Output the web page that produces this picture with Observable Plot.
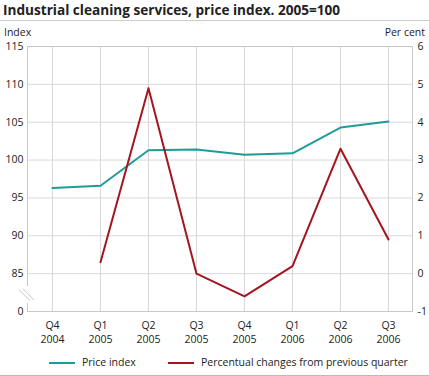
<!DOCTYPE html>
<html>
<head>
<meta charset="utf-8">
<script src="https://cdn.jsdelivr.net/npm/d3@7"></script>
<script src="https://cdn.jsdelivr.net/npm/@observablehq/plot@0.6"></script>
<style>
  html, body { margin: 0; padding: 0; background: #fff; }
  body { position: relative; width: 429px; height: 376px; overflow: hidden; font-family: "Open Sans", sans-serif; color: #222; }
  #title { height: 20px; border-bottom: 1px solid #ccc; font-weight: bold; font-size: 13.6px; line-height: 20px; padding-left: 3px; white-space: nowrap; }
  #chart svg { display: block; }
  .unit { position: absolute; top: 25px; height: 14px; line-height: 14px; font-size: 10.5px; white-space: nowrap; }
  #legend { position: absolute; top: 351px; left: 0; width: 429px; height: 24px; border-bottom: 1px solid #bbb; font-size: 10.5px; }
  .item { position: absolute; top: 3px; height: 16px; line-height: 16px; white-space: nowrap; }
  .sw { display: inline-block; width: 26px; height: 2px; vertical-align: middle; margin-right: 7px; }
</style>
</head>
<body>
<div id="title">Industrial cleaning services, price index. 2005=100</div>
<div id="chart"></div>
<div class="unit" id="unitLeft" style="left:4px"></div>
<div class="unit" id="unitRight" style="right:4px"></div>
<div id="legend"></div>
<script>
const quarters = ["Q4 2004", "Q1 2005", "Q2 2005", "Q3 2005", "Q4 2005", "Q1 2006", "Q2 2006", "Q3 2006"];
const priceIndex = [96.3, 96.6, 101.3, 101.4, 100.7, 100.9, 104.3, 105.1];
const pctChange = [null, 0.3, 4.9, 0.0, -0.6, 0.2, 3.3, 0.9];
const leftTicks = [80, 85, 90, 95, 100, 105, 110, 115];
const leftTickLabels = ["0", "85", "90", "95", "100", "105", "110", "115"];
const rightTickLabels = ["-1", "0", "1", "2", "3", "4", "5", "6"];
const seriesNames = ["Price index", "Percentual changes from previous quarter"];
const unitLabels = ["Index", "Per cent"];
const colors = ["#1f9c99", "#a3151f"];

// right axis (per cent) mapped onto left axis: -1 -> 80, 6 -> 115
const toLeft = (p) => 85 + 5 * p;

const priceData = quarters.map((q, i) => ({q, v: priceIndex[i]}));
const pctData = quarters.map((q, i) => ({q, v: pctChange[i]})).filter(d => d.v != null);

const gridColor = "#d9d9d9";

const chart = Plot.plot({
  width: 429,
  height: 330,
  marginTop: 25,
  marginBottom: 40,
  marginLeft: 27,
  marginRight: 17,
  style: {fontFamily: "Open Sans, sans-serif", fontSize: "10.5px", color: "#222", background: "#fff"},
  x: {type: "point", domain: quarters, padding: 0.5, label: null},
  y: {domain: [80, 115], label: null},
  marks: [
    Plot.gridX(quarters, {stroke: gridColor, strokeOpacity: 1}),
    Plot.gridY(leftTicks, {stroke: gridColor, strokeOpacity: 1}),
    Plot.frame({stroke: "#c8c8c8"}),
    Plot.axisY(leftTicks, {anchor: "left", tickSize: 0, tickPadding: 4, label: null,
      tickFormat: (d) => leftTickLabels[leftTicks.indexOf(d)]}),
    Plot.axisY(leftTicks, {anchor: "right", tickSize: 0, tickPadding: 5, label: null,
      tickFormat: (d) => rightTickLabels[leftTicks.indexOf(d)]}),
    Plot.axisX(quarters, {anchor: "bottom", tickSize: 0, tickPadding: 7, label: null, lineHeight: 1.35,
      tickFormat: (d) => d.replace(" ", "\n")}),
    Plot.line(priceData, {x: "q", y: "v", stroke: colors[0], strokeWidth: 2}),
    Plot.line(pctData, {x: "q", y: (d) => toLeft(d.v), stroke: colors[1], strokeWidth: 2})
  ]
});
document.getElementById("chart").appendChild(chart);
document.getElementById("unitLeft").textContent = unitLabels[0];
document.getElementById("unitRight").textContent = unitLabels[1];

// axis break marks on the left axis between 0 and 85
const svg = d3.select(chart);
const y = chart.scale("y");
const yTop = y.apply(83.3), yBot = y.apply(81.1);
const x0 = 27;
svg.append("line").attr("x1", x0).attr("x2", x0).attr("y1", yTop).attr("y2", yBot)
  .attr("stroke", "#fff").attr("stroke-width", 3);
const ym = (yTop + yBot) / 2;
[-2, 2].forEach(o => {
  svg.append("line")
    .attr("x1", x0 - 6 + o).attr("y1", ym - 5 - o * 0.2)
    .attr("x2", x0 + 5 + o).attr("y2", ym + 6 - o * 0.2)
    .attr("stroke", "#c8c8c8").attr("stroke-width", 1);
});

// legend
const legend = document.getElementById("legend");
const positions = [49, 168];
seriesNames.forEach((name, i) => {
  const it = document.createElement("div");
  it.className = "item";
  it.style.left = positions[i] + "px";
  it.innerHTML = `<span class="sw" style="background:${colors[i]}"></span>${name}`;
  legend.appendChild(it);
});
</script>
</body>
</html>
